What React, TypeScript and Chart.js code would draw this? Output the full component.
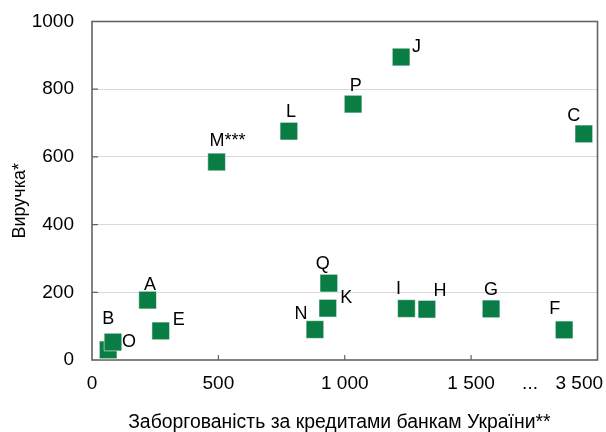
import React, { useEffect, useRef } from 'react';
import { Chart, registerables } from 'chart.js';

Chart.register(...registerables);

// ---- data ----
const pointNames = ['A', 'B', 'C', 'E', 'F', 'G', 'H', 'I', 'J', 'K', 'L', 'M***', 'N', 'O', 'P', 'Q'];
const debtValues = [220, 64, 1946, 272, 1868, 1579, 1325, 1244, 1223, 933, 779, 493, 882, 83, 1033, 937];
const revenueValues = [177, 30, 668, 86, 89, 151, 150, 152, 895, 153, 676, 585, 90, 53, 756, 227];

const xTickValues = [0, 500, 1000, 1500, 1733, 1928];
const xTickLabels = ['0', '500', '1 000', '1 500', '...', '3 500'];
const xTickMarks = [500, 1000, 1500];
const yTickMarks = [200, 400, 600, 800];

const xTitle = 'Заборгованість за кредитами банкам України**';
const yTitle = 'Виручка*';

// label offsets in px (dx, dy) relative to marker centre
const labelOffsets: [number, number][] = [
  [2.5, -15.5], [0, -31], [-10, -18], [18, -11], [-9.5, -20.5], [0, -19], [13, -18], [-8, -19.5],
  [15.5, -10.5], [18.5, -10], [2, -19], [11, -21], [-14, -16], [16, 0], [2.7, -18], [-6, -19],
];

const FONT = "Arial, 'Liberation Sans', sans-serif";
const GREEN = '#0a7d45';
const AXIS = '#636363';

const zeroPad = (s: any) => {
  s.paddingLeft = 0;
  s.paddingRight = 0;
  s.paddingTop = 0;
  s.paddingBottom = 0;
};

const framePlugin = {
  id: 'frame',
  beforeDatasetsDraw(chart: any) {
    const { ctx, chartArea } = chart;
    const { left, right, top, bottom } = chartArea;
    const xs = chart.scales.x;
    const ys = chart.scales.y;
    ctx.save();
    ctx.strokeStyle = AXIS;
    ctx.lineWidth = 1.6;
    ctx.strokeRect(left, top, right - left, bottom - top);
    ctx.lineWidth = 1.2;
    ctx.beginPath();
    xTickMarks.forEach((v) => {
      const px = xs.getPixelForValue(v);
      ctx.moveTo(px, bottom);
      ctx.lineTo(px, bottom - 5);
    });
    yTickMarks.forEach((v) => {
      const py = ys.getPixelForValue(v);
      ctx.moveTo(left, py);
      ctx.lineTo(left + 6, py);
    });
    ctx.stroke();
    ctx.restore();
  },
};

const labelPlugin = {
  id: 'pointLabels',
  afterDatasetsDraw(chart: any) {
    const { ctx } = chart;
    const meta = chart.getDatasetMeta(0);
    ctx.save();
    ctx.font = `18px ${FONT}`;
    ctx.fillStyle = '#000';
    ctx.textAlign = 'center';
    ctx.textBaseline = 'middle';
    meta.data.forEach((el: any, i: number) => {
      const [dx, dy] = labelOffsets[i];
      ctx.fillText(pointNames[i], el.x + dx, el.y + dy);
    });
    ctx.restore();
  },
};

export default function App() {
  const ref = useRef<HTMLCanvasElement | null>(null);

  useEffect(() => {
    if (!ref.current) return;
    const chart = new Chart(ref.current, {
      type: 'scatter',
      data: {
        datasets: [
          {
            data: debtValues.map((x, i) => ({ x, y: revenueValues[i] })),
            pointStyle: 'rect',
            pointRadius: 12.5,
            pointHoverRadius: 12.5,
            backgroundColor: GREEN,
            borderColor: 'rgba(255,255,255,0.55)',
            borderWidth: 1,
            clip: false as any,
          },
        ],
      },
      options: {
        animation: false,
        responsive: false,
        layout: { autoPadding: false, padding: { left: 0, right: 8.5, top: 21.5, bottom: 0 } },
        plugins: { legend: { display: false }, tooltip: { enabled: false } },
        scales: {
          x: {
            type: 'linear',
            min: 0,
            max: 2000,
            afterBuildTicks: (s: any) => {
              s.ticks = xTickValues.map((v) => ({ value: v }));
            },
            afterFit: (s: any) => {
              s.height = 72;
              zeroPad(s);
            },
            ticks: {
              autoSkip: false,
              maxRotation: 0,
              minRotation: 0,
              padding: 0,
              color: '#000',
              font: { family: FONT, size: 19 },
              callback: (v: any) => {
                const i = xTickValues.indexOf(Number(v));
                return i >= 0 ? xTickLabels[i] : '';
              },
            },
            grid: { display: false, drawTicks: true, tickLength: 12 },
            border: { display: false },
            title: {
              display: true,
              text: xTitle + '  ',
              color: '#000',
              font: { family: FONT, size: 19.4 },
              padding: { top: 0, bottom: -2 },
            },
          },
          y: {
            min: 0,
            max: 1000,
            afterFit: (s: any) => {
              s.width = 92;
              zeroPad(s);
            },
            ticks: {
              stepSize: 200,
              padding: 0,
              color: '#000',
              font: { family: FONT, size: 19 },
              callback: (v: any) => String(v),
            },
            grid: {
              drawTicks: true,
              tickLength: 18,
              tickColor: 'rgba(0,0,0,0)',
              lineWidth: 1,
              color: (c: any) => {
                const v = c.tick ? c.tick.value : 0;
                return v === 0 || v === 1000 ? 'rgba(0,0,0,0)' : '#d9d9d9';
              },
            },
            border: { display: false },
            title: {
              display: true,
              text: yTitle + '    ',
              color: '#000',
              font: { family: FONT, size: 18 },
              padding: { top: 9, bottom: 0 },
            },
          },
        },
      },
      plugins: [framePlugin, labelPlugin],
    });
    return () => chart.destroy();
  }, []);

  return (
    <div style={{ position: 'absolute', left: 0, top: 0, width: 606, height: 432 }}>
      <canvas ref={ref} width={606} height={432} style={{ display: 'block' }} />
    </div>
  );
}
